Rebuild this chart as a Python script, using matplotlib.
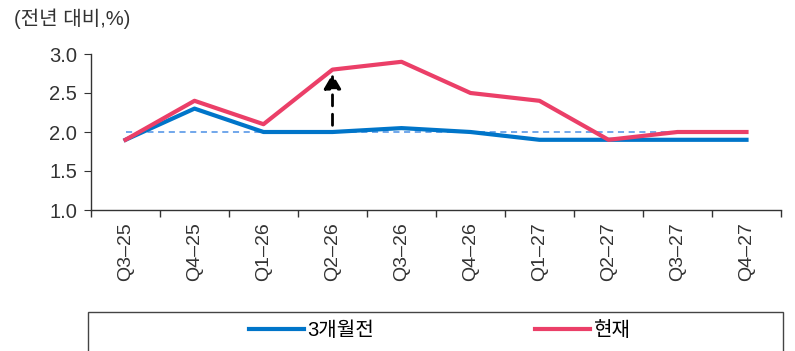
import matplotlib.pyplot as plt
from matplotlib.patches import Rectangle

plt.rcParams['font.family'] = ['Liberation Sans', 'Noto Sans CJK KR', 'DejaVu Sans']

# data
quarters = ['Q3–25', 'Q4–25', 'Q1–26', 'Q2–26', 'Q3–26',
            'Q4–26', 'Q1–27', 'Q2–27', 'Q3–27', 'Q4–27']
three_months_ago = [1.9, 2.3, 2.0, 2.0, 2.05, 2.0, 1.9, 1.9, 1.9, 1.9]
current = [1.9, 2.4, 2.1, 2.8, 2.9, 2.5, 2.4, 1.9, 2.0, 2.0]
target = 2.0
arrow_idx = 3

blue = '#0075C9'
red = '#EB3F68'
dark = '#333333'

fig = plt.figure(figsize=(7.95, 3.51), dpi=100)
ax = fig.add_axes([91 / 795, 1 - 210 / 351, 690 / 795, 156 / 351])

x = list(range(len(quarters)))
ax.plot([x[0], x[-1]], [target, target], color='#4A8FE6', lw=1.1,
        ls=(0, (4, 3)), zorder=2)
l1, = ax.plot(x, three_months_ago, color=blue, lw=3, label='3개월전', zorder=3)
l2, = ax.plot(x, current, color=red, lw=3, label='현재', zorder=4)

# arrow showing the upward revision
ax.annotate('', xy=(arrow_idx, current[arrow_idx] - 0.02),
            xytext=(arrow_idx, three_months_ago[arrow_idx] + 0.05),
            arrowprops=dict(arrowstyle='-|>,head_width=0.35,head_length=0.6',
                            color='black', lw=2, ls=(0, (4, 3)),
                            mutation_scale=15),
            zorder=5)

ax.set_xlim(-0.5, len(quarters) - 0.5)
ax.set_ylim(1.0, 3.0)
yt = [1.0, 1.5, 2.0, 2.5, 3.0]
ax.set_yticks(yt)
ax.set_yticklabels([f'{v:.1f}' for v in yt])

ax.set_xticks([i - 0.5 for i in range(len(quarters) + 1)])
ax.set_xticklabels([])
ax.set_xticks(x, minor=True)
ax.set_xticklabels(quarters, minor=True, rotation=90)
ax.tick_params(axis='x', which='minor', length=0, pad=9, labelsize=14,
               labelcolor=dark)
ax.tick_params(axis='x', which='major', length=5, direction='out',
               color=dark, width=1)
ax.tick_params(axis='y', length=5, direction='out', color=dark,
               labelsize=14.5, labelcolor=dark, pad=5)

for s in ['top', 'right']:
    ax.spines[s].set_visible(False)
for s in ['left', 'bottom']:
    ax.spines[s].set_color(dark)
    ax.spines[s].set_linewidth(1)

fig.text(14 / 795, 1 - 19 / 351, '(전년 대비,%)', fontsize=14.5,
         color=dark, ha='left', va='center')

# legend box (cut at the bottom edge)
fig.patches.append(Rectangle((88 / 795, -0.1), 695 / 795, 0.1 + 1 - 312 / 351,
                             transform=fig.transFigure, fill=False,
                             edgecolor='#444444', lw=1))
fig.legend(handles=[l1, l2], loc='center', bbox_to_anchor=(440 / 795, 1 - 331 / 351),
           ncol=2, frameon=False, fontsize=14.5, handlelength=2.7,
           handletextpad=0.2, columnspacing=8.0, borderpad=0)

fig.savefig('out.png', dpi=100)
